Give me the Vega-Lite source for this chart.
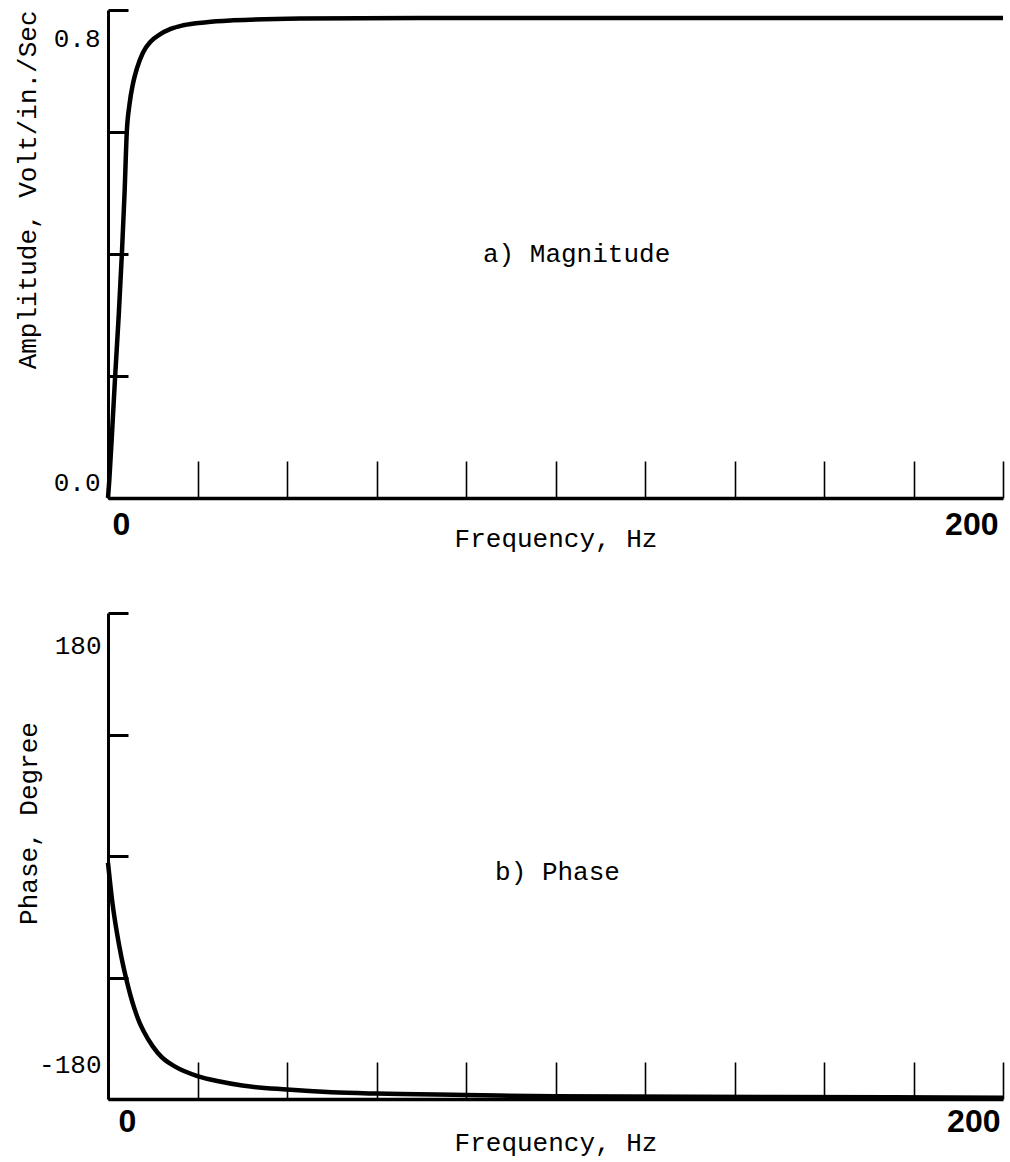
{
  "$schema": "https://vega.github.io/schema/vega-lite/v6.json",
  "background": "white",
  "padding": {"left": 14, "top": 8, "right": 5, "bottom": 2},
  "spacing": 60,
  "config": {
    "view": {"stroke": null},
    "font": "Liberation Mono",
    "axis": {
      "grid": false,
      "domainColor": "black",
      "tickColor": "black",
      "labelColor": "black",
      "titleColor": "black",
      "titleFontWeight": "normal",
      "labelFont": "Liberation Mono",
      "titleFont": "Liberation Mono",
      "labelFlush": false
    }
  },
  "datasets": {
    "magnitude": [
      {"f": 0, "v": 0}, {"f": 0.3, "v": 0.03}, {"f": 1, "v": 0.12}, {"f": 1.6, "v": 0.2},
      {"f": 2.4, "v": 0.3}, {"f": 3.1, "v": 0.4}, {"f": 3.7, "v": 0.5}, {"f": 4.2, "v": 0.6},
      {"f": 4.8, "v": 0.645}, {"f": 5.6, "v": 0.68}, {"f": 6.5, "v": 0.705}, {"f": 7.8, "v": 0.73},
      {"f": 9.5, "v": 0.748}, {"f": 11.6, "v": 0.76}, {"f": 14, "v": 0.769}, {"f": 16.8, "v": 0.775},
      {"f": 22, "v": 0.78}, {"f": 28, "v": 0.783}, {"f": 43, "v": 0.786}, {"f": 70, "v": 0.787},
      {"f": 100, "v": 0.787}, {"f": 150, "v": 0.787}, {"f": 200, "v": 0.787}
    ],
    "phase": [
      {"f": 0, "p": -5}, {"f": 1, "p": -35}, {"f": 2, "p": -57}, {"f": 3, "p": -75},
      {"f": 4, "p": -90}, {"f": 5, "p": -103}, {"f": 6, "p": -114}, {"f": 7, "p": -123},
      {"f": 8, "p": -130}, {"f": 10, "p": -141}, {"f": 12, "p": -149}, {"f": 15, "p": -156},
      {"f": 20, "p": -163}, {"f": 25, "p": -167}, {"f": 30, "p": -170}, {"f": 40, "p": -173},
      {"f": 50, "p": -175}, {"f": 60, "p": -176}, {"f": 80, "p": -177}, {"f": 100, "p": -178},
      {"f": 150, "p": -178.5}, {"f": 200, "p": -179}
    ],
    "notes": [
      {"panel": "a", "f": 83.8, "v": 0.4, "p": 0, "label": "a) Magnitude"},
      {"panel": "b", "f": 86.5, "v": 0, "p": -12, "label": "b) Phase"}
    ]
  },
  "vconcat": [
    {
      "width": 895,
      "height": 488,
      "layer": [
        {
          "data": {"name": "magnitude"},
          "mark": {"type": "line", "color": "black", "strokeWidth": 4.5, "interpolate": "monotone"},
          "encoding": {
            "x": {
              "field": "f", "type": "quantitative",
              "scale": {"domain": [0, 200], "nice": false, "zero": false},
              "axis": {
                "values": [0, 20, 40, 60, 80, 100, 120, 140, 160, 180, 200],
                "labelExpr": "datum.value == 0 ? '0' : datum.value == 200 ? '200' : ''",
                "tickSize": -37, "tickWidth": 1.6, "domainWidth": 3.5,
                "labelPadding": 48, "labelFont": "Liberation Sans", "labelFontWeight": "bold",
                "labelFontSize": 32,
                "labelAlign": {"condition": {"test": "datum.value == 0", "value": "left"}, "value": "right"},
                "labelOffset": {"condition": {"test": "datum.value == 0", "value": 4}, "value": -5},
                "title": "Frequency, Hz", "titleFontSize": 26, "titleY": 40, "titleBaseline": "middle"
              }
            },
            "y": {
              "field": "v", "type": "quantitative",
              "scale": {"domain": [0, 0.8], "nice": false},
              "axis": {
                "values": [0, 0.2, 0.4, 0.6, 0.8],
                "labelExpr": "datum.value == 0 ? '0.0' : datum.value == 0.8 ? '0.8' : ''",
                "tickSize": -20, "tickWidth": 3, "domainWidth": 3,
                "labelPadding": 28, "labelFontSize": 26, "labelBaseline": "middle",
                "labelOffset": {"condition": {"test": "datum.value == 0", "value": -16}, "value": 28},
                "title": "Amplitude, Volt/in./Sec", "titleFontSize": 26, "titleAnchor": "end",
                "titleX": -81, "titleBaseline": "middle", "titleAngle": 270
              }
            }
          }
        },
        {
          "data": {"name": "notes"},
          "transform": [{"filter": "datum.panel == 'a'"}],
          "mark": {"type": "text", "align": "left", "baseline": "middle", "fontSize": 26, "font": "Liberation Mono", "color": "black"},
          "encoding": {
            "x": {"field": "f", "type": "quantitative"},
            "y": {"field": "v", "type": "quantitative"},
            "text": {"field": "label"}
          }
        }
      ]
    },
    {
      "width": 895,
      "height": 486,
      "layer": [
        {
          "data": {"name": "phase"},
          "mark": {"type": "line", "color": "black", "strokeWidth": 4.5, "interpolate": "monotone"},
          "encoding": {
            "x": {
              "field": "f", "type": "quantitative",
              "scale": {"domain": [0, 200], "nice": false, "zero": false},
              "axis": {
                "values": [0, 20, 40, 60, 80, 100, 120, 140, 160, 180, 200],
                "labelExpr": "datum.value == 0 ? '0' : datum.value == 200 ? '200' : ''",
                "tickSize": -37, "tickWidth": 1.6, "domainWidth": 3.5,
                "labelPadding": 44, "labelFont": "Liberation Sans", "labelFontWeight": "bold",
                "labelFontSize": 32,
                "labelAlign": {"condition": {"test": "datum.value == 0", "value": "left"}, "value": "right"},
                "labelOffset": {"condition": {"test": "datum.value == 0", "value": 10}, "value": -3},
                "title": "Frequency, Hz", "titleFontSize": 26, "titleY": 43, "titleBaseline": "middle"
              }
            },
            "y": {
              "field": "p", "type": "quantitative",
              "scale": {"domain": [-180, 180], "nice": false},
              "axis": {
                "values": [-180, -90, 0, 90, 180],
                "labelExpr": "datum.value == -180 ? '-180' : datum.value == 180 ? '180' : ''",
                "tickSize": -20, "tickWidth": 3, "domainWidth": 3,
                "labelPadding": 27, "labelFontSize": 26, "labelBaseline": "middle",
                "labelOffset": {"condition": {"test": "datum.value == -180", "value": -35}, "value": 32},
                "title": "Phase, Degree", "titleFontSize": 26,
                "titleX": -80, "titleY": 210, "titleBaseline": "middle", "titleAngle": 270
              }
            }
          }
        },
        {
          "data": {"name": "notes"},
          "transform": [{"filter": "datum.panel == 'b'"}],
          "mark": {"type": "text", "align": "left", "baseline": "middle", "fontSize": 26, "font": "Liberation Mono", "color": "black"},
          "encoding": {
            "x": {"field": "f", "type": "quantitative"},
            "y": {"field": "p", "type": "quantitative"},
            "text": {"field": "label"}
          }
        }
      ]
    }
  ]
}
